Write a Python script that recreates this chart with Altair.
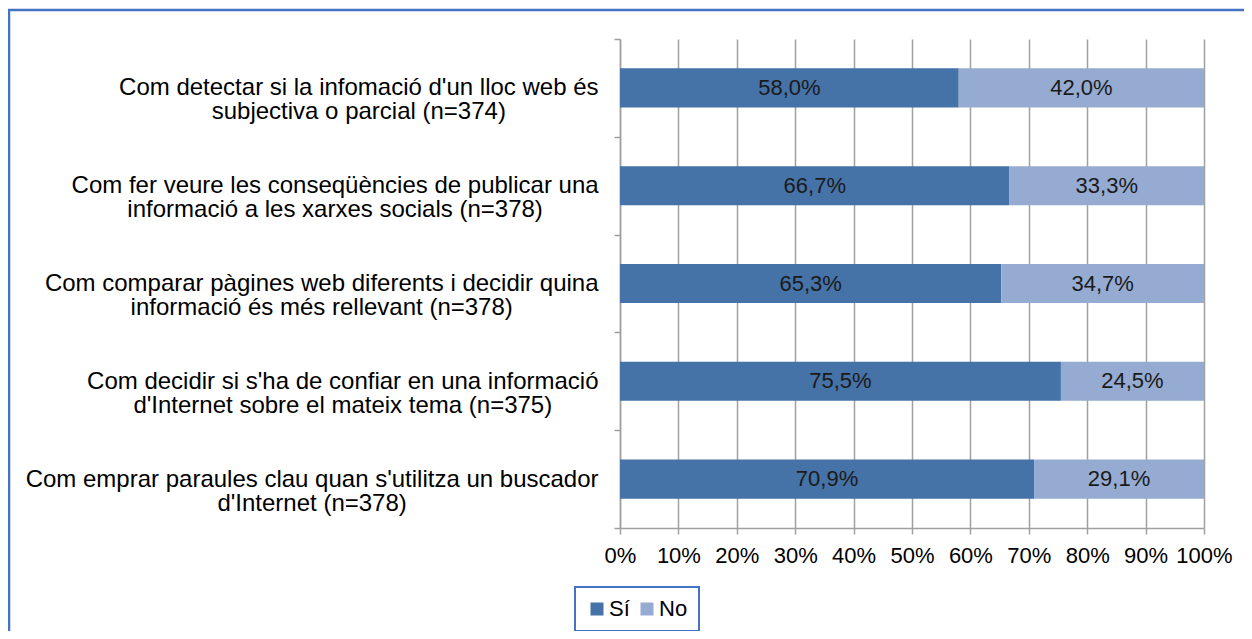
import json
import altair as alt
import pandas as pd

# ---------------- data ----------------
line1 = [
    "Com detectar si la infomació d'un lloc web és",
    "Com fer veure les conseqüències de publicar una",
    "Com comparar pàgines web diferents i decidir quina",
    "Com decidir si s'ha de confiar en una informació",
    "Com emprar paraules clau quan s'utilitza un buscador",
]
line2 = [
    "subjectiva o parcial (n=374)",
    "informació a les xarxes socials (n=378)",
    "informació és més rellevant (n=378)",
    "d'Internet sobre el mateix tema (n=375)",
    "d'Internet (n=378)",
]
si_values = [58.0, 66.7, 65.3, 75.5, 70.9]
no_values = [42.0, 33.3, 34.7, 24.5, 29.1]
answers = ["Sí", "No"]
x_ticks = [0, 10, 20, 30, 40, 50, 60, 70, 80, 90, 100]

categories = [a + "\n" + b for a, b in zip(line1, line2)]

rows = []
for cat, s, n in zip(categories, si_values, no_values):
    rows.append({"category": cat, "answer": answers[0], "value": s, "order": 0})
    rows.append({"category": cat, "answer": answers[1], "value": n, "order": 1})
df = pd.DataFrame(rows)

# ---------------- label layout helper (Arial / Liberation Sans metrics) ----------------
W = {' ': 278, "'": 191, '(': 333, ')': 333, '=': 584, ',': 278, '.': 278, '%': 889,
     'a': 556, 'b': 556, 'c': 500, 'd': 556, 'e': 556, 'f': 278, 'g': 556, 'h': 556,
     'i': 222, 'j': 222, 'k': 500, 'l': 222, 'm': 833, 'n': 556, 'o': 556, 'p': 556,
     'q': 556, 'r': 333, 's': 500, 't': 278, 'u': 556, 'v': 500, 'w': 722, 'x': 500,
     'y': 500, 'z': 500, 'à': 556, 'é': 556, 'è': 556, 'ó': 556, 'ò': 556, 'ü': 556,
     'í': 278, 'C': 722, 'I': 278, 'S': 667, 'N': 722}
for d in "0123456789":
    W[d] = 556

YFS = 24
def text_w(s, fs=YFS):
    return sum(W.get(ch, 556) for ch in s) * fs / 1000.0

BASE_PAD = 16
pad_cond = []
for cat, a, b in zip(categories, line1, line2):
    w = max(text_w(a), text_w(b))
    pad_cond.append({"test": "datum.value === " + json.dumps(cat, ensure_ascii=False),
                     "value": round(BASE_PAD + w / 2, 1)})

DARK = "#4572A7"
LIGHT = "#95ABD2"
BORDER = "#4472C4"
GRID = "#A0A0A0"
FONT = "Liberation Sans"

base = alt.Chart(df).transform_window(
    cum="sum(value)", groupby=["category"], sort=[alt.SortField("order")]
).transform_calculate(
    start="datum.cum - datum.value",
    mid="datum.cum - datum.value / 2",
    lab="replace(format(datum.value, '.1f'), '.', ',') + '%'",
)

y_enc = alt.Y(
    "category:N",
    sort=categories,
    scale=alt.Scale(paddingInner=0, paddingOuter=0),
    axis=alt.Axis(
        title=None,
        labelExpr="split(datum.label, '\\n')",
        labelAlign="center",
        labelBaseline="middle",
        labelFontSize=YFS,
        labelLineHeight=24,
        labelLimit=800,
        labelColor="#000000",
        labelPadding={"condition": pad_cond, "value": BASE_PAD},
        tickBand="extent",
        tickSize=6,
        tickColor=GRID,
        tickWidth=1.5,
        domainColor=GRID,
        domainWidth=1.5,
        grid=False,
    ),
)

bars = base.mark_bar(height=alt.RelativeBandSize(0.4)).encode(
    x=alt.X(
        "start:Q",
        scale=alt.Scale(domain=[0, 100], nice=False, zero=True),
        axis=alt.Axis(
            title=None,
            values=x_ticks,
            labelExpr="datum.value + '%'",
            labelFontSize=22,
            labelColor="#000000",
            labelPadding=11,
            labelOverlap=False,
            labelFlush=False,
            tickSize=6,
            tickColor=GRID,
            tickWidth=1.5,
            domainColor=GRID,
            domainWidth=1.5,
            grid=True,
            gridColor=GRID,
            gridWidth=1.5,
        ),
    ),
    x2="cum:Q",
    y=y_enc,
    color=alt.Color(
        "answer:N",
        scale=alt.Scale(domain=answers, range=[DARK, LIGHT]),
        legend=alt.Legend(
            title=None,
            orient="none",
            legendX=-45,
            legendY=548,
            direction="horizontal",
            symbolType="square",
            symbolSize=169,
            symbolStrokeWidth=0,
            labelFontSize=22,
            labelColor="#000000",
            labelOffset=1,
            columnPadding=6,
            padding=11,
        ),
    ),
)

labels = base.mark_text(fontSize=22, color="#1a1a1a", font=FONT).encode(
    x="mid:Q",
    y=alt.Y("category:N", sort=categories),
    text="lab:N",
)

border = alt.Chart(alt.Data(values=[{"b": 1}])).mark_rect(
    fillOpacity=0, stroke=BORDER, strokeWidth=2.5
).encode(
    x=alt.value(-611), x2=alt.value(900), y=alt.value(-29), y2=alt.value(900)
)

chart = alt.layer(border, bars, labels).properties(
    width=584,
    height=489,
    autosize=alt.AutoSizeParams(type="none"),
    padding={"left": 612, "top": 31, "right": 40, "bottom": 103},
).configure(font=FONT).configure_view(strokeWidth=0).configure_legend(
    strokeColor=BORDER, strokeWidth=2
)

chart.save("out.html", embed_options={"renderer": "svg", "actions": False})
